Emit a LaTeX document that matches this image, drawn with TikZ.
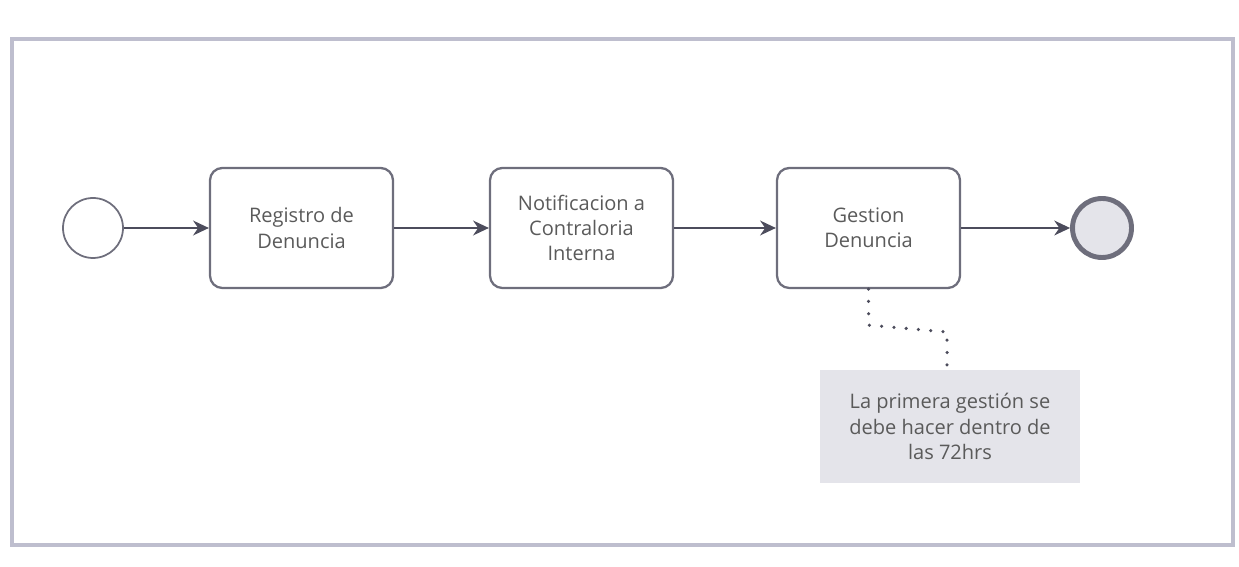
\documentclass[tikz,border=0pt]{standalone}
\usepackage{fontspec}
\setmainfont{Open Sans}
\usepackage{tikz}
\usetikzlibrary{arrows.meta}

\definecolor{linegray}{HTML}{4C4C5C}
\definecolor{boxgray}{HTML}{6E6E7C}
\definecolor{textgray}{HTML}{5A5A5A}
\definecolor{notegray}{HTML}{E4E4EA}
\definecolor{framegray}{HTML}{BEBECE}

\tikzset{
	tarea/.style={draw=boxgray, line width=1.3pt, rounded corners=7pt, minimum width=3.66cm, minimum height=2.4cm, align=center, text=textgray, font=\fontsize{11.4}{14.3}\selectfont},
	flujo/.style={-{Stealth[length=9pt,width=8.5pt]}, draw=linegray, line width=0.6pt}
}

\begin{document}
\begin{tikzpicture}
	\useasboundingbox (0,0) rectangle (24.78,11.32);
	\draw[framegray, line width=1.8pt] (0.24,0.42) rectangle (24.66,10.54); %marco
	\node[circle, draw=boxgray, line width=1pt, minimum size=1.2cm] (inicio) at (1.86,6.76) {}; %inicio
	\node[tarea] (registro) at (6.03,6.76) {Registro de\\Denuncia};
	\node[tarea] (notif) at (11.63,6.76) {Notificacion a\\Contraloria\\Interna};
	\node[tarea] (gestion) at (17.37,6.76) {Gestion\\Denuncia};
	\node[circle, draw=boxgray, fill=notegray, line width=2.8pt, minimum size=1.18cm] (fin) at (22.04,6.76) {}; %fin
	\node[fill=notegray, minimum width=5.2cm, minimum height=2.26cm, align=center, text=textgray, font=\fontsize{11.4}{14.3}\selectfont] (nota) at (19.0,2.79) {La primera gestión se\\debe hacer dentro de\\las 72hrs}; %anotacion
	\draw[flujo] (inicio) -- (registro);
	\draw[flujo] (registro) -- (notif);
	\draw[flujo] (notif) -- (gestion);
	\draw[flujo] (gestion) -- (fin);
	\coordinate (codo) at (18.94,4.68);
	\draw[linegray, line width=2pt, dash pattern=on 0pt off 7pt, line cap=round] (gestion.south) -- ++(0,-0.72) -- (codo) -- (codo |- nota.north); %asociacion
\end{tikzpicture}
\end{document}
